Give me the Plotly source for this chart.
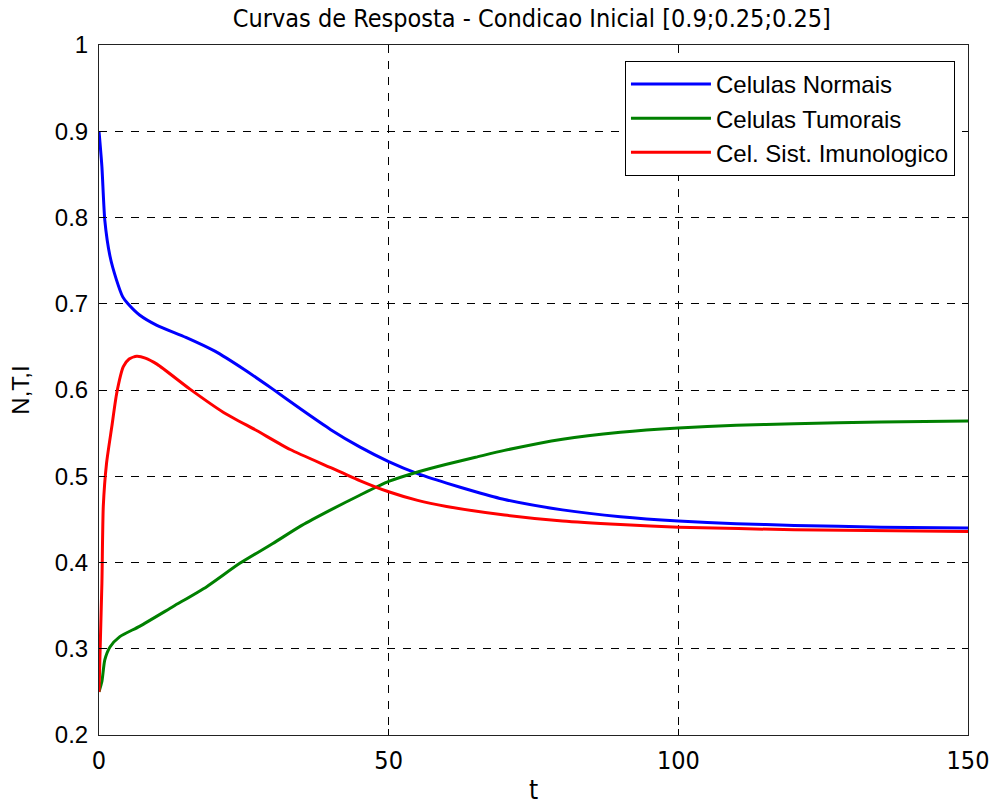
import plotly.graph_objects as go

# Values
t_N = [0, 0.5, 1.0, 1.9, 3, 4.1, 5, 7, 10, 15, 20, 25, 30, 35, 40, 45, 50, 55, 60, 65, 70, 80, 90, 100, 110, 120, 135, 150]
N = [0.90, 0.859, 0.797, 0.755, 0.728, 0.708, 0.700, 0.687, 0.675, 0.661, 0.645, 0.624, 0.601, 0.577, 0.554, 0.534, 0.517, 0.503, 0.492, 0.482, 0.473, 0.461, 0.453, 0.448, 0.445, 0.443, 0.441, 0.440]

t_T = [0, 0.5, 1.0, 1.9, 3.6, 7, 12.8, 18.6, 24.3, 30, 35, 40, 45, 50, 55, 60, 65, 70, 80, 90, 100, 110, 120, 135, 150]
T = [0.25, 0.262, 0.287, 0.302, 0.314, 0.326, 0.349, 0.372, 0.399, 0.422, 0.443, 0.461, 0.478, 0.494, 0.505, 0.514, 0.522, 0.530, 0.543, 0.551, 0.556, 0.559, 0.561, 0.563, 0.564]

t_I = [0, 0.5, 0.74, 1.3, 2.2, 3.05, 4.2, 5.2, 6.5, 8, 10, 15.7, 21.5, 27.2, 33, 40, 45, 50, 55, 60, 70, 80, 90, 100, 120, 150]
I = [0.25, 0.376, 0.465, 0.515, 0.557, 0.596, 0.627, 0.636, 0.639, 0.637, 0.630, 0.601, 0.574, 0.553, 0.531, 0.510, 0.495, 0.482, 0.472, 0.465, 0.455, 0.448, 0.444, 0.441, 0.438, 0.436]

x_ticks = [0, 50, 100, 150]
y_ticks = [0.2, 0.3, 0.4, 0.5, 0.6, 0.7, 0.8, 0.9, 1.0]
y_ticklabels = ["0.2", "0.3", "0.4", "0.5", "0.6", "0.7", "0.8", "0.9", "1"]

names = ["Celulas Normais", "Celulas Tumorais", "Cel. Sist. Imunologico"]
colors = ["#0000ff", "#008000", "#ff0000"]

NARROW = "DejaVu Sans Condensed, Liberation Sans, Arial, sans-serif"
ARIAL = "Liberation Sans, Arial, sans-serif"

fig = go.Figure()
for tt, yy, nm, c in zip([t_N, t_T, t_I], [N, T, I], names, colors):
    fig.add_trace(go.Scatter(x=tt, y=yy, mode="lines", name=nm,
                             line=dict(color=c, width=3, shape="spline", smoothing=0.6)))

axis_common = dict(
    showgrid=True, gridcolor="black", gridwidth=1, griddash="8px,8px",
    showline=True, linecolor="#222222", linewidth=1, mirror="ticks",
    ticks="inside", ticklen=6, tickcolor="black", zeroline=False,
    automargin=False,
)
fig.update_xaxes(range=[0, 150], tickvals=x_ticks,
                 title=dict(text="t", font=dict(family=NARROW, size=26, color="black"), standoff=16),
                 tickfont=dict(family=NARROW, size=25, color="black"),
                 ticklabelstandoff=3,
                 **axis_common)
fig.update_yaxes(range=[0.2, 1.0], tickvals=y_ticks, ticktext=y_ticklabels,
                 title=dict(text="N,T,I", font=dict(family=ARIAL, size=24, color="black"), standoff=18),
                 tickfont=dict(family=ARIAL, size=24, color="black"),
                 ticklabelstandoff=5,
                 **axis_common)

fig.update_layout(
    width=995, height=805,
    margin=dict(l=99, r=27, t=45, b=70),
    paper_bgcolor="white", plot_bgcolor="white",
    title=dict(text="Curvas de Resposta - Condicao Inicial [0.9;0.25;0.25]",
               x=0.5345, xanchor="center", y=0.977, yanchor="middle",
               font=dict(family=NARROW, size=25, color="black")),
    legend=dict(x=0.985, y=0.977, xanchor="right", yanchor="top",
                bgcolor="white", bordercolor="black", borderwidth=1,
                itemwidth=80,
                font=dict(family=ARIAL, size=24, color="black")),
    showlegend=True,
)

fig.write_html("out.html")
